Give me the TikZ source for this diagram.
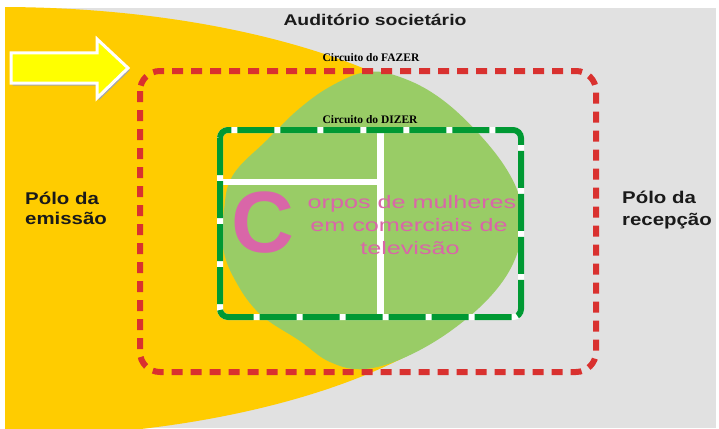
\documentclass[tikz,border=0pt]{standalone}
\usepackage{fontspec}
\setmainfont{Liberation Sans}
\newfontfamily\serifb{Liberation Serif}
\definecolor{bggray}{HTML}{E1E1E1}
\definecolor{yel}{HTML}{FFCC00}
\definecolor{blobgreen}{HTML}{99CC66}
\definecolor{reddash}{HTML}{D9312F}
\definecolor{dgreen}{HTML}{009933}
\definecolor{pinkc}{HTML}{D966A8}
\definecolor{arrowyel}{HTML}{FFFF00}
\definecolor{txt}{HTML}{1A1A1A}
\begin{document}
\begin{tikzpicture}[x=1pt,y=-1pt,
  poletext/.style={anchor=base west, inner sep=0pt, text=txt, font=\bfseries\fontsize{17}{20}\selectfont},
  circtext/.style={anchor=base, inner sep=0pt, text=black, font=\serifb\bfseries\fontsize{11.5}{13}\selectfont},
  pinktext/.style={anchor=base, inner sep=0pt, text=pinkc, font=\fontsize{18}{20}\selectfont},
  reddashed/.style={draw=reddash, line width=6pt, rounded corners=20pt, dash pattern=on 11pt off 8pt},
  greendashed/.style={draw=dgreen, line width=6pt, rounded corners=8pt, dash pattern=on 37pt off 6pt},
  crossbar/.style={draw=white, line width=7pt}]
\useasboundingbox (0,0) rectangle (719,428);
\fill[white] (0,0) rectangle (719,428);
\fill[bggray] (5,8) rectangle (716,428);
\begin{scope}
  \clip (5,8) rectangle (716,428);
  \fill[yel] (0,222) ellipse [x radius=520, y radius=215];
\end{scope}
% green blob
\fill[blobgreen] plot[smooth cycle, tension=0.65] coordinates {
  (367,72) (400,77) (440,98) (480,135) (510,175) (522,210) (520,245)
  (500,285) (460,324) (410,355) (365,369) (330,362) (300,341) (260,314)
  (235,280) (223,247) (224,210) (233,175) (267,140) (300,108) (333,85)};
% arrow
\begin{scope}[shift={(1.5,2.5)}]
  \fill[gray!70] (11,53) -- (97,53) -- (97,39) -- (128,68) -- (97,98) -- (97,83) -- (11,83) -- cycle;
\end{scope}
\draw[white, line width=3pt, fill=arrowyel, line join=miter]
  (11,53) -- (97,53) -- (97,39) -- (128,68) -- (97,98) -- (97,83) -- (11,83) -- cycle;
% cross bars inside the DIZER circuit
\coordinate (vbT) at (380,130);
\coordinate (vbB) at (380,317);
\coordinate (hbL) at (220,182);
\coordinate (hbR) at (380,182);
\draw[crossbar] (vbT) -- (vbB);
\draw[crossbar, line width=6pt] (hbL) -- (hbR);
% DIZER circuit
\draw[white, line width=6pt, rounded corners=8pt] (220,130) rectangle (521,317);
\draw[greendashed] (220,130) rectangle (521,317);
% FAZER circuit
\draw[reddashed] (140,71) rectangle (596,372);
% texts
\node[anchor=base, inner sep=0pt, text=txt, font=\bfseries\fontsize{15.5}{18}\selectfont] (aud) at (375,26) {\scalebox{1.25}[1]{Auditório societário}};
\node[circtext] (fazer) at (371,62) {Circuito do FAZER};
\node[circtext] (dizer) at (370,123) {Circuito do DIZER};
\node[poletext] (em1) at (25,204) {\scalebox{1.2}[1]{Pólo da}};
\node[poletext] (em2) at (25,224) {\scalebox{1.2}[1]{emissão}};
\node[poletext] (re1) at (622,203) {\scalebox{1.2}[1]{Pólo da}};
\node[poletext] (re2) at (622,225) {\scalebox{1.2}[1]{recepção}};
\node[anchor=base west, inner sep=0pt, text=pinkc, font=\bfseries\fontsize{87}{90}\selectfont] (bigC) at (231,252) {C};
\node[pinktext] (p1) at (412,208) {\scalebox{1.4}[1]{orpos de mulheres}};
\node[pinktext] (p2) at (409,231) {\scalebox{1.4}[1]{em comerciais de}};
\node[pinktext] (p3) at (410,254) {\scalebox{1.4}[1]{televisão}};
\end{tikzpicture}
\end{document}
